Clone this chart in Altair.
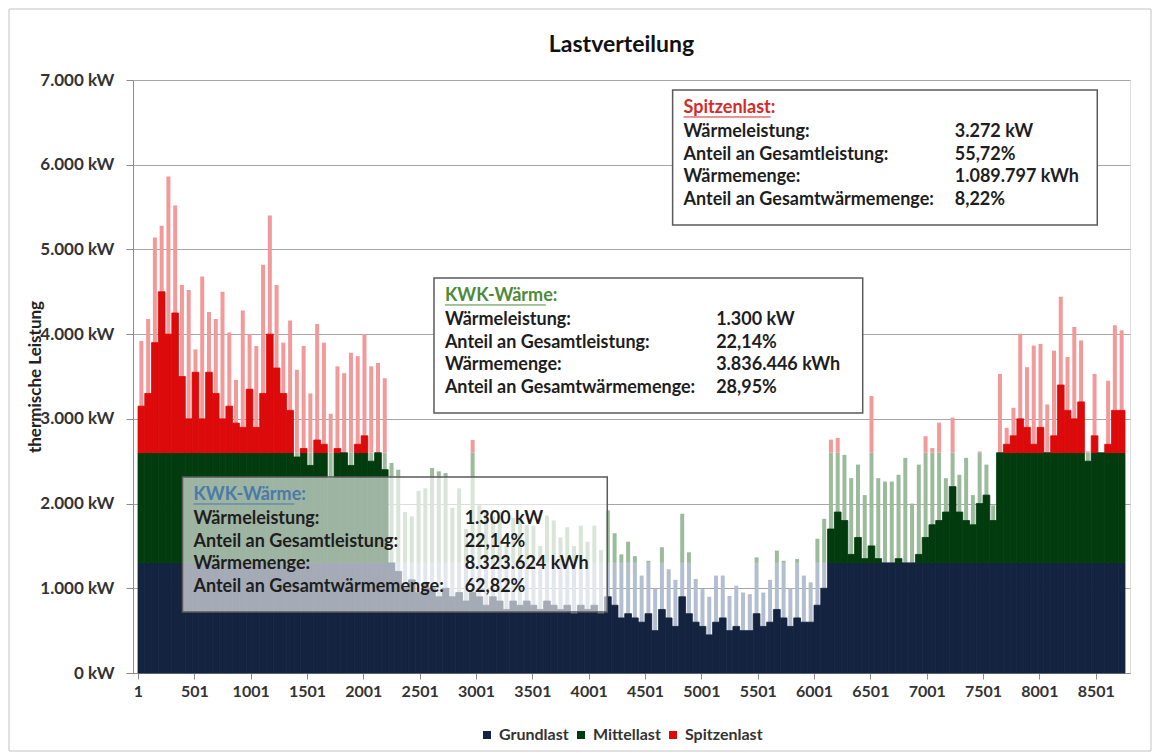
import altair as alt
import pandas as pd

# Hourly heat load, condensed into 60-hour blocks (146 blocks = 8760 h).
# PEAK: highest hourly value inside the block, BASE: level that is reached most of the block.
HOURS_PER_BIN = 60
PEAK = [
    3920, 4180, 5140, 5280, 5860, 5520, 4580, 4520, 3820, 4680,
    4260, 4180, 4500, 4020, 3460, 4280, 4000, 3860, 4820, 5400,
    4580, 3900, 4160, 3580, 3860, 3300, 4120, 3900, 3060, 3620,
    3540, 3780, 3740, 4000, 3620, 3660, 3480, 2480, 2400, 1900,
    1850, 2150, 2180, 2420, 2380, 2360, 1950, 2180, 1700, 2750,
    1980, 1900, 1850, 1900, 1500, 1830, 1820, 1750, 1740, 1500,
    1860, 1800, 1600, 1720, 1500, 1740, 1550, 1740, 1450, 1920,
    1650, 1400, 1550, 1380, 1150, 1325, 1000, 1485, 1225, 1100,
    1880, 1425, 1110, 990, 900, 1150, 1150, 910, 1030, 950,
    930, 1365, 950, 1100, 1445, 1325, 1000, 1345, 1150, 1070,
    1585, 1820, 2755, 2775, 2575, 2300, 2460, 2100, 3270, 2300,
    2260, 2260, 2340, 2540, 2000, 2460, 2795, 2655, 2955, 2300,
    3015, 2340, 2540, 2100, 2615, 2460, 1980, 3530, 2895, 3130,
    4005, 3610, 3865, 3885, 3170, 3805, 4440, 3730, 4085, 3925,
    2615, 3530, 2460, 3450, 4105, 4045,
]
BASE = [
    3150, 3300, 3900, 4500, 4000, 4250, 3500, 3000, 3550, 3000,
    3550, 3300, 3000, 3150, 2950, 2900, 3350, 2900, 3300, 4000,
    3600, 3300, 3100, 2550, 2650, 2450, 2750, 2700, 2300, 2650,
    2600, 2450, 2700, 2800, 2500, 2600, 2400, 1300, 1200, 1000,
    1100, 950, 1050, 1000, 900, 1000, 900, 950, 850, 950,
    900, 800, 900, 850, 750, 850, 800, 850, 800, 750,
    850, 800, 750, 800, 700, 800, 750, 800, 700, 900,
    800, 650, 700, 650, 600, 700, 500, 750, 650, 550,
    900, 700, 600, 550, 450, 600, 650, 500, 550, 500,
    500, 700, 550, 600, 750, 650, 550, 650, 600, 600,
    800, 1000, 1700, 1900, 1800, 1400, 1600, 1350, 1500, 1350,
    1300, 1300, 1350, 1300, 1300, 1400, 1600, 1750, 1800, 1900,
    2200, 1900, 1800, 1750, 2000, 2100, 1800, 2600, 2700, 2800,
    3000, 2900, 2700, 2900, 2600, 2800, 3400, 3100, 3000, 3200,
    2500, 2800, 2600, 2700, 3100, 3100,
]

BANDS = ["Grundlast", "Mittellast", "Spitzenlast"]
BAND_LIMITS = [0, 1300, 2600, 7000]
SOLID_COLORS = ["#14233f", "#023c0e", "#dc0a0a"]
LIGHT_COLORS = ["#b3bfd1", "#9cbb9c", "#f29a9a"]

X_TICKS = list(range(1, 8761, 500))
Y_TICKS = list(range(0, 7001, 1000))

# Info boxes: (hour from, hour to, kW top, kW bottom, fill opacity, header, header colour,
#              header underline length in px, values)
LABELS = ["Wärmeleistung:", "Anteil an Gesamtleistung:", "Wärmemenge:", "Anteil an Gesamtwärmemenge:"]
BOXES = [
    (4746, 8515, 6882, 5288, 1.0, "Spitzenlast:", "#d42a2a", 88,
     ["3.272 kW", "55,72%", "1.089.797 kWh", "8,22%"]),
    (2628, 6433, 4663, 3069, 1.0, "KWK-Wärme:", "#4d8a3a", 102,
     ["1.300 kW", "22,14%", "3.836.446 kWh", "28,95%"]),
    (396, 4166, 2314, 720, 0.62, "KWK-Wärme:", "#4a7aa6", 102,
     ["1.300 kW", "22,14%", "8.323.624 kWh", "62,82%"]),
]

W, H = 997, 593
X_DOMAIN = [1, 8761]
Y_DOMAIN = [0, 7000]
H_PER_PX = (X_DOMAIN[1] - X_DOMAIN[0]) / W
KW_PER_PX = (Y_DOMAIN[1] - Y_DOMAIN[0]) / H
FONT = "Lato"

# ---- bar tables -------------------------------------------------------------
solid_rows, light_rows = [], []
for i, (pk, bs) in enumerate(zip(PEAK, BASE)):
    start = X_DOMAIN[0] + i * HOURS_PER_BIN
    end = start + HOURS_PER_BIN
    mid = start + HOURS_PER_BIN / 2
    for b, name in enumerate(BANDS):
        lo, hi = BAND_LIMITS[b], BAND_LIMITS[b + 1]
        if bs > lo:
            solid_rows.append({"h0": start, "h1": end, "lo": lo, "hi": min(bs, hi), "band": name})
        if pk > lo:
            light_rows.append({"h": mid, "lo": lo, "hi": min(pk, hi), "band": name})

solid = pd.DataFrame(solid_rows)
light = pd.DataFrame(light_rows)

# ---- annotation tables ------------------------------------------------------
row_px = [18, 42, 65, 87, 110]
box_rows, text_rows, line_rows = [], [], []
for x0, x1, ytop, ybot, op, head, hcol, ulen, vals in BOXES:
    box_rows.append({"x0": x0, "x1": x1, "y0": ytop, "y1": ybot, "op": op})
    tx = x0 + 11 * H_PER_PX
    vx = x0 + 285 * H_PER_PX
    ys = [ytop - p * KW_PER_PX for p in row_px]
    text_rows.append({"x": tx, "y": ys[0], "t": head, "c": hcol})
    line_rows.append({"x": tx, "x2": tx + ulen * H_PER_PX,
                      "y": ys[0] - 9 * KW_PER_PX, "c": hcol})
    for lab, val, yy in zip(LABELS, vals, ys[1:]):
        text_rows.append({"x": tx, "y": yy, "t": lab, "c": "#1e1e1e"})
        text_rows.append({"x": vx, "y": yy, "t": val, "c": "#1e1e1e"})

boxes = pd.DataFrame(box_rows)
texts = pd.DataFrame(text_rows)
underlines = pd.DataFrame(line_rows)

# ---- scales / axes ------------------------------------------------------------
xs = alt.Scale(domain=X_DOMAIN, nice=False, zero=False)
ysc = alt.Scale(domain=Y_DOMAIN, nice=False)

x_axis = alt.Axis(values=X_TICKS, format="d", title=None, grid=False, labelFont=FONT,
                  labelFontWeight="bold", labelFontSize=16, labelColor="#333333",
                  tickSize=6, tickColor="#8c8c8c", domainColor="#8c8c8c",
                  labelPadding=4, labelOverlap=False, labelFlush=False)
y_axis = alt.Axis(values=Y_TICKS, title="thermische Leistung",
                  labelExpr="replace(format(datum.value, ',.0f'), ',', '.') + ' kW'",
                  labelFont=FONT, labelFontWeight="bold", labelFontSize=17,
                  labelColor="#333333", tickSize=7, tickColor="#8c8c8c",
                  domainColor="#8c8c8c", labelPadding=12, grid=True,
                  gridColor="#a6a6a6", gridWidth=1,
                  titleFont=FONT, titleFontWeight="bold", titleFontSize=17,
                  titleColor="#222222", titleX=-98, titleY=H / 2, titleAngle=270,
                  titleAlign="center", titleBaseline="middle")

spikes = alt.Chart(light).mark_bar(size=4, strokeWidth=0).encode(
    x=alt.X("h:Q", scale=xs, axis=x_axis),
    y=alt.Y("lo:Q", scale=ysc, axis=y_axis),
    y2="hi:Q",
    color=alt.Color("band:N", scale=alt.Scale(domain=BANDS, range=LIGHT_COLORS), legend=None),
)

fill = alt.Chart(solid).mark_bar(strokeWidth=0.8).encode(
    x=alt.X("h0:Q", scale=xs),
    x2="h1:Q",
    y=alt.Y("lo:Q", scale=ysc),
    y2="hi:Q",
    color=alt.Color(
        "band:N",
        scale=alt.Scale(domain=BANDS, range=SOLID_COLORS),
        sort=BANDS,
        legend=alt.Legend(title=None, orient="none", direction="horizontal",
                          legendX=346, legendY=647, symbolType="square",
                          symbolSize=64, symbolStrokeWidth=0,
                          labelFont=FONT, labelFontWeight="bold", labelFontSize=16,
                          labelColor="#333333", columnPadding=4, labelOffset=4),
    ),
    stroke=alt.Stroke("band:N", scale=alt.Scale(domain=BANDS, range=SOLID_COLORS), legend=None),
)

box_marks = alt.Chart(boxes).mark_rect(fill="white", stroke="#5a5a5a", strokeWidth=1.5).encode(
    x=alt.X("x0:Q", scale=xs), x2="x1:Q",
    y=alt.Y("y0:Q", scale=ysc), y2="y1:Q",
    fillOpacity=alt.FillOpacity("op:Q", scale=None),
)

text_marks = alt.Chart(texts).mark_text(
    align="left", baseline="middle", font=FONT, fontWeight="bold", fontSize=18
).encode(
    x=alt.X("x:Q", scale=xs),
    y=alt.Y("y:Q", scale=ysc),
    text="t:N",
    color=alt.Color("c:N", scale=None),
)

underline_marks = alt.Chart(underlines).mark_rule(strokeWidth=1).encode(
    x=alt.X("x:Q", scale=xs), x2="x2:Q",
    y=alt.Y("y:Q", scale=ysc),
    color=alt.Color("c:N", scale=None),
)

# chart heading, centred over the plot area
heading = alt.Chart(pd.DataFrame({"t": ["Lastverteilung"]})).mark_text(
    font=FONT, fontSize=23, fontWeight="bold", color="#111111",
    align="center", baseline="middle"
).encode(text="t:N", x=alt.value(W / 2 - 10), y=alt.value(-35))

# thin outline around the whole chart
frame = alt.Chart(pd.DataFrame({"k": [0]})).mark_rect(
    fill=None, stroke="#c4c4c4", strokeWidth=1
).encode(
    x=alt.value(-124), x2=alt.value(1018),
    y=alt.value(-71), y2=alt.value(671),
)

chart = alt.layer(
    spikes, fill, box_marks, underline_marks, text_marks, heading, frame
).resolve_scale(color="independent", stroke="independent").properties(
    width=W, height=H,
    padding={"left": 133, "top": 80, "right": 31, "bottom": 80},
    autosize=alt.AutoSizeParams(type="none"),
).configure_view(stroke=None).configure(background="white")

chart.save("out.html", embed_options={"renderer": "svg", "actions": False})
